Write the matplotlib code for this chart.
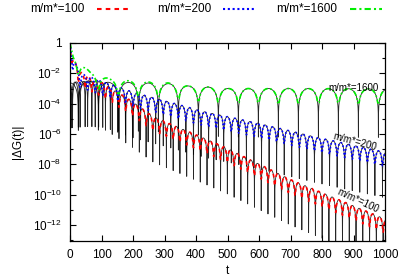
import numpy as np
import matplotlib
matplotlib.use('Agg')
import matplotlib.pyplot as plt
from matplotlib.lines import Line2D
from matplotlib.ticker import FixedLocator, FixedFormatter

plt.rcParams['font.family'] = ['Liberation Sans', 'DejaVu Sans']
plt.rcParams['mathtext.default'] = 'regular'

# envelope of the arches (log10 of peak values)
t_green = [0, 10, 63, 127, 190, 248, 311, 375, 438, 500, 700, 1000]
log_green = [0, -0.8, -1.9, -2.37, -2.5, -2.57, -2.63, -2.83, -2.9, -3.0, -3.0, -3.02]
t_blue = [0, 10, 32, 95, 200, 300, 420, 600, 780, 1000]
log_blue = [0, -1.0, -2.0, -2.45, -3.25, -3.8, -4.5, -5.3, -6.2, -7.2]
t_red = [0, 10, 32, 105, 190, 264, 349, 423, 500, 700, 850, 1000]
log_red = [0, -1.0, -1.9, -2.65, -3.75, -4.85, -5.6, -6.25, -6.95, -9.0, -10.3, -11.6]

# exact results (black): lower at early times, then on top of the approximations
t_black = [0, 30, 60, 130, 200, 300, 1000]
log_black_cap = [-2.6, -2.55, -2.5, -2.6, -2.6, -2.68, -2.68]

# oscillation period / position of first zero (in t)
periods = {'100': 21.5, '200': 24.0, '1600': 63.5}
zeros = {'100': 5.0, '200': 8.0, '1600': 26.5}
# depth of the dips of the exact curves (decades below the arch tops)
dip_depth = {'100': 3.0, '200': 3.0, '1600': 3.2}


def build(t, t_env, log_env, key, floor, cap=None):
    lg = np.interp(t, t_env, log_env)
    if cap is not None:
        lg = np.minimum(lg, np.interp(t, t_black, cap))
    osc = np.abs(np.sin(np.pi * (t - zeros[key]) / periods[key]))
    return 10 ** lg * np.maximum(osc, floor)


t_col = np.arange(0, 1001, 1.0)

fig = plt.figure(figsize=(3.99, 2.8), dpi=100)
ax = fig.add_axes([70 / 399, 39 / 280, 315 / 399, 198 / 280])

series = [('100', t_red, log_red, 'red', (0, (2.2, 2))),
          ('200', t_blue, log_blue, 'blue', (0, (1, 1.3))),
          ('1600', t_green, log_green, '#00ee00', (0, (3, 1.5, 1, 1.5)))]

for key, te, le, col, ls in series:
    # sample grid that includes the zeros, so every dip of the exact curve shows
    tz = np.arange(zeros[key], 1000, periods[key])
    t_exact = np.union1d(np.arange(0, 1000.01, 0.5), tz)
    ax.plot(t_exact, build(t_exact, te, le, key, 10 ** -dip_depth[key],
                           log_black_cap),
            color='black', lw=0.6, alpha=0.85, zorder=2)
for key, te, le, col, ls in series:
    ax.plot(t_col, build(t_col, te, le, key, 0.12), color=col, ls=ls, lw=1.2,
            zorder=3)

ax.set_yscale('log')
ax.set_xlim(0, 1000)
ax.set_ylim(10 ** -13.05, 1)
ax.set_xticks(range(0, 1001, 100))

major = [10.0 ** -k for k in range(0, 13, 2)]
labels = ['1'] + [r'$10^{-%d}$' % k for k in range(2, 13, 2)]
ax.yaxis.set_major_locator(FixedLocator(major))
ax.yaxis.set_major_formatter(FixedFormatter(labels))
ax.yaxis.set_minor_locator(FixedLocator([10.0 ** -k for k in range(1, 14, 2)]))
ax.yaxis.set_minor_formatter(FixedFormatter([]))

ax.tick_params(which='both', direction='in', top=True, right=True,
               labelsize=8.5, width=0.8)
ax.tick_params(which='major', length=4, pad=6)
ax.tick_params(which='minor', length=2)
for s in ax.spines.values():
    s.set_linewidth(0.9)
    s.set_zorder(4)

ax.set_xlabel('t', fontsize=8.5, labelpad=3)
ax.set_ylabel('|ΔG(t)|', fontsize=8.5, labelpad=6)

ax.text(900, 10 ** -2.95, 'm/m*=1600', fontsize=7, ha='center', va='center',
        zorder=5)
ax.text(905, 10 ** -6.5, 'm/m*=200', fontsize=7, ha='center', va='center',
        rotation=-15, zorder=5)
ax.text(915, 10 ** -10.4, 'm/m*=100', fontsize=7, ha='center', va='center',
        rotation=-25, zorder=5)

# gnuplot style key: text then line sample, in one row above the plot
key_text_x = [30, 157, 276]
key_line_x = [(97, 130), (223, 256), (350, 382)]
key_y = 1 - 9 / 280
for (key, te, le, col, ls), tx, (x0, x1) in zip(series, key_text_x, key_line_x):
    fig.text(tx / 399, key_y, 'm/m*=' + key, fontsize=8.5, ha='left', va='center')
    fig.add_artist(Line2D([x0 / 399, x1 / 399], [key_y, key_y],
                          transform=fig.transFigure, color=col, ls=ls, lw=1.5))

plt.savefig('out.png', dpi=100)
